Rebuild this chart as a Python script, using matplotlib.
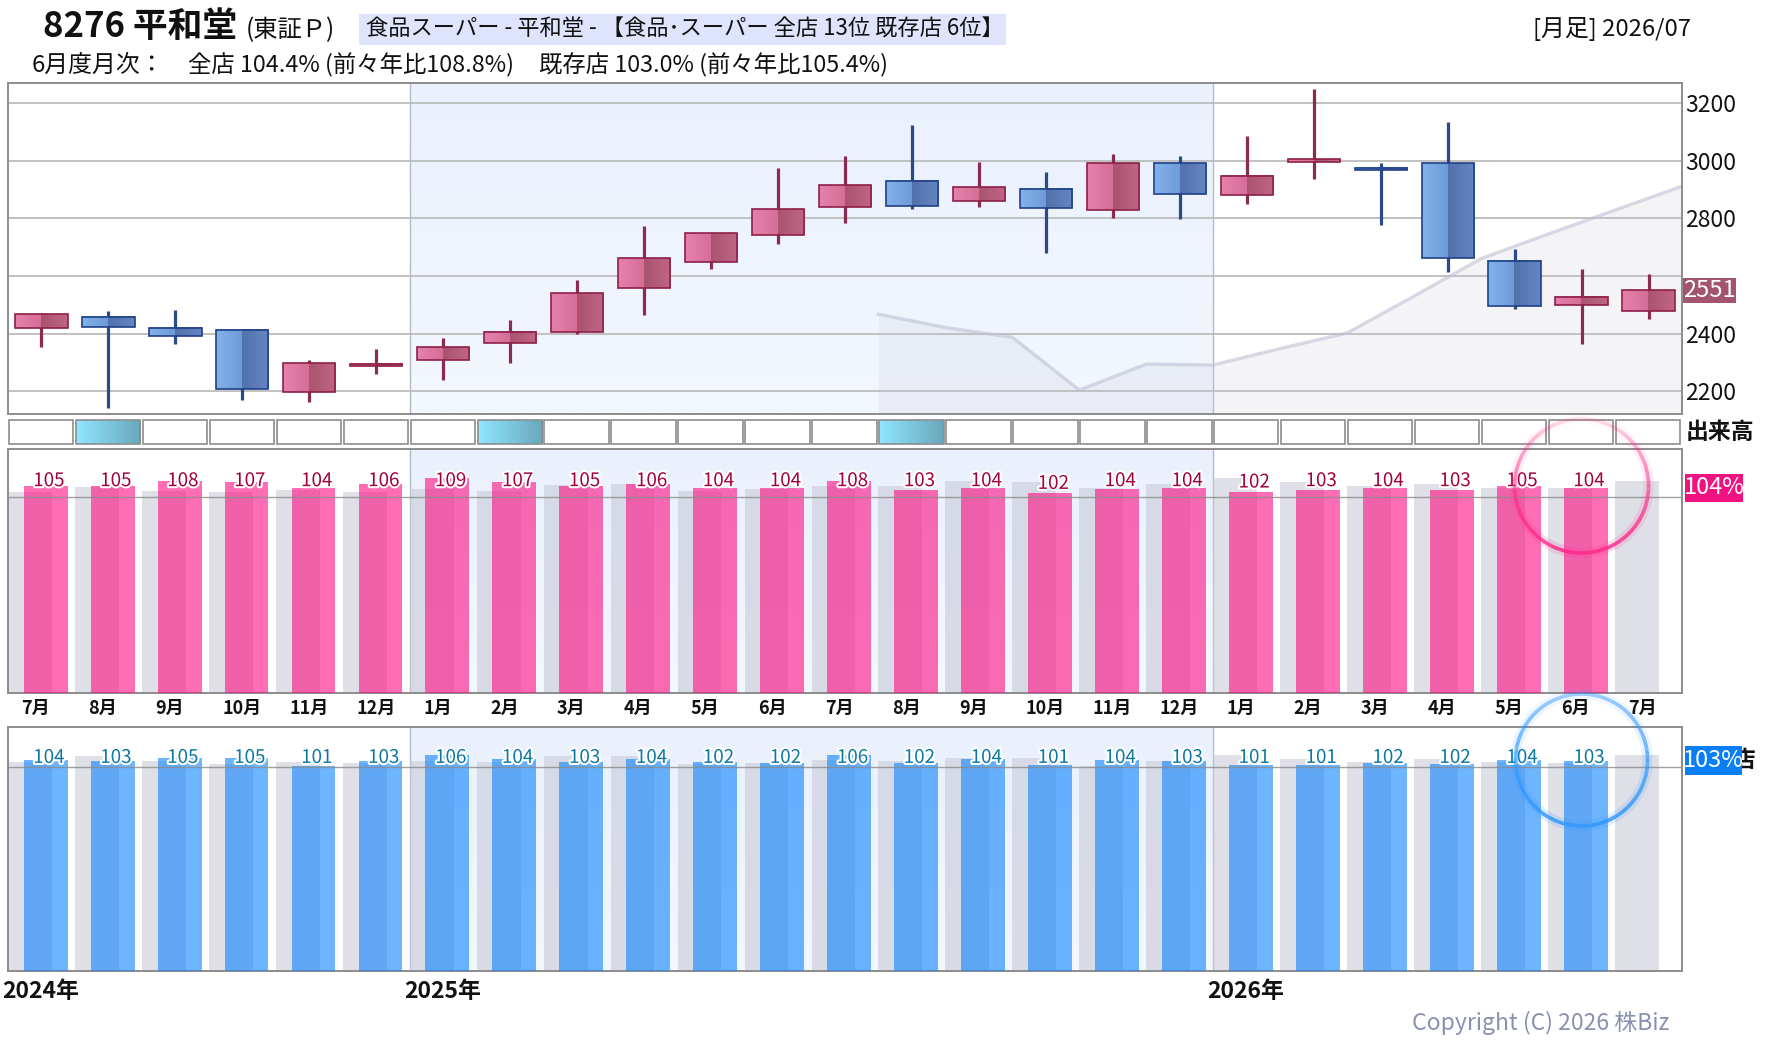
import numpy as np
import matplotlib
matplotlib.use('Agg')
import matplotlib.pyplot as plt
from matplotlib.patches import Rectangle
from matplotlib.collections import LineCollection
import matplotlib.patheffects as pe
from matplotlib.transforms import blended_transform_factory

plt.rcParams['font.family'] = ['Noto Sans CJK JP', 'DejaVu Sans']

W, H = 1780, 1054

# ---------------- data ----------------
months = ['7月', '8月', '9月', '10月', '11月', '12月',
          '1月', '2月', '3月', '4月', '5月', '6月', '7月', '8月', '9月', '10月', '11月', '12月',
          '1月', '2月', '3月', '4月', '5月', '6月', '7月']
years = ['2024年', '2025年', '2026年']
year_start_idx = [0, 6, 18]

opens = [2421, 2459, 2421, 2414, 2197, 2290, 2310, 2366, 2407, 2559, 2648, 2741, 2838,
         2928, 2859, 2900, 2828, 2990, 2879, 2997, 2974, 2990, 2652, 2499, 2479]
highs = [2470, 2477, 2480, 2414, 2308, 2346, 2384, 2446, 2587, 2774, 2750, 2974, 3015,
         3125, 2994, 2960, 3022, 3015, 3084, 3249, 2990, 3134, 2693, 2625, 2608]
lows = [2352, 2141, 2363, 2171, 2164, 2261, 2240, 2299, 2400, 2464, 2623, 2709, 2785,
        2833, 2840, 2678, 2802, 2799, 2851, 2937, 2778, 2613, 2485, 2364, 2451]
closes = [2469, 2424, 2390, 2207, 2297, 2293, 2355, 2407, 2541, 2662, 2748, 2831, 2914,
          2841, 2907, 2834, 2990, 2883, 2945, 3003, 2967, 2662, 2495, 2528, 2551]
last_price = 2551

price_ticks = [2200, 2400, 2600, 2800, 3000, 3200]
price_tick_labels = ['2200', '2400', '', '2800', '3000', '3200']

ma_first_idx = 13
ma_values = [2467, 2421, 2387, 2204, 2294, 2291, 2348, 2402, 2530, 2660, 2745, 2828, 2911]

volume_highlight = [0, 1, 0, 0, 0, 0, 0, 1, 0, 0, 0, 0, 0, 1, 0, 0, 0, 0, 0, 0, 0, 0, 0, 0, 0]

all_store = [105.3, 105.4, 107.8, 107.4, 104.4, 106.4, 109.4, 107.3, 105.3, 106.3, 104.4, 104.4,
             107.8, 103.4, 104.3, 101.7, 103.8, 104.4, 102.4, 103.2, 104.3, 103.2, 105.4, 104.4]
all_store_prev = [102.2, 104.8, 102.7, 102.2, 103.2, 102.2, 103.8, 102.7, 105.8, 106.3, 102.7, 103.8,
                  105.3, 105.4, 107.8, 107.4, 104.4, 106.4, 109.4, 107.3, 105.3, 106.3, 104.4, 104.4, 107.8]
existing = [103.6, 103.1, 104.6, 104.6, 100.7, 103.1, 106.1, 104.1, 102.6, 104.1, 102.4, 102.1,
            106.1, 102.1, 104.1, 101.2, 103.6, 103.1, 101.2, 101.2, 102.1, 101.6, 103.6, 103.1]
existing_prev = [102.6, 105.6, 103.1, 101.6, 102.6, 102.1, 103.1, 102.6, 105.6, 105.6, 101.6, 102.1,
                 103.6, 103.1, 104.6, 104.6, 100.7, 103.1, 106.1, 104.1, 102.6, 104.1, 102.4, 102.1, 106.1]
latest_all = 104.4
latest_existing = 103.0

title_code = '8276 平和堂'
title_market = '(東証Ｐ)'
header_box = '食品スーパー - 平和堂 - 【食品･スーパー 全店 13位 既存店 6位】'
header_right = '[月足] 2026/07'
sub1 = '6月度月次：'
sub2 = '全店 104.4% (前々年比108.8%)'
sub3 = '既存店 103.0% (前々年比105.4%)'
existing_label = '既存店'
copyright_text = 'Copyright (C) 2026 株Biz'

n = len(months)
xs = np.arange(n)

# ---------------- figure ----------------
fig = plt.figure(figsize=(17.8, 10.54), dpi=100)
fig.patch.set_facecolor('white')


def fig_rect(x0, y0, x1, y1):
    return [x0 / W, 1 - y1 / H, (x1 - x0) / W, (y1 - y0) / H]


ax = fig.add_axes(fig_rect(8, 83, 1682, 414))
ax_v = fig.add_axes(fig_rect(8, 419, 1682, 445))
ax_p = fig.add_axes(fig_rect(8, 449.5, 1682, 692.5))
ax_b = fig.add_axes(fig_rect(8, 727, 1682, 971))
ov = fig.add_axes([0, 0, 1, 1], zorder=10)
ov.set_xlim(0, W)
ov.set_ylim(H, 0)
ov.axis('off')

x_lo, x_hi = -0.5, n - 0.5
y25_0, y25_1 = year_start_idx[1] - 0.5, year_start_idx[2] - 0.5


def shade(a, x0, x1, y0, y1, top=(234, 241, 253), bot=(243, 247, 254)):
    g = np.linspace(0, 1, 64)[:, None]
    arr = (np.array(top) * (1 - g) + np.array(bot) * g) / 255.0
    a.imshow(arr[:, None, :], extent=(x0, x1, y0, y1), aspect='auto', origin='upper',
             zorder=0.1, interpolation='bilinear')


def style_frame(a):
    for s in a.spines.values():
        s.set_color('#8c8c8c')
        s.set_linewidth(1.4)


# ---------------- price panel ----------------
p_lo, p_hi = 2121, 3269
shade(ax, y25_0, y25_1, p_lo, p_hi)
for b in (y25_0, y25_1):
    ax.axvline(b, color='#b4b8c8', lw=1.0, zorder=0.3)

ma_x = np.arange(ma_first_idx, ma_first_idx + len(ma_values)) - 0.5
ax.fill_between(ma_x, ma_values, p_lo, color=(200 / 255, 200 / 255, 215 / 255, 0.2), lw=0, zorder=1)
ax.plot(ma_x, ma_values, color=(190 / 255, 192 / 255, 212 / 255, 0.6), lw=2.4, zorder=1.2,
        solid_joinstyle='round')


def body_img(up, m=60):
    if up:
        c = [(228, 130, 172), (214, 110, 150), (170, 84, 112), (192, 102, 133)]
    else:
        c = [(130, 178, 232), (110, 155, 216), (82, 114, 172), (100, 134, 194)]
    h = m // 2
    t = np.linspace(0, 1, h)[:, None]
    left = np.array(c[0]) * (1 - t) + np.array(c[1]) * t
    right = np.array(c[2]) * (1 - t) + np.array(c[3]) * t
    return (np.vstack([left, right]) / 255.0)[None, :, :]


bw = 0.39
for i in range(n):
    o, hi, lo, c = opens[i], highs[i], lows[i], closes[i]
    up = c >= o
    wick = '#8a2c52' if up else '#2a4a8c'
    edge = '#8e1f48' if up else '#1f3f88'
    ax.vlines(i, lo, hi, color=wick, lw=2.3, zorder=2)
    b0, b1 = min(o, c), max(o, c)
    if b1 - b0 < 9:
        mid = (b0 + b1) / 2
        b0, b1 = mid - 4.5, mid + 4.5
    ax.imshow(body_img(up), extent=(i - bw, i + bw, b0, b1), aspect='auto',
              interpolation='nearest', zorder=3)
    ax.add_patch(Rectangle((i - bw, b0), 2 * bw, b1 - b0, fill=False, ec=edge, lw=1.2, zorder=4))

ax.set_xlim(x_lo, x_hi)
ax.set_ylim(p_lo, p_hi)
ax.set_yticks(price_ticks)
ax.set_yticklabels(price_tick_labels)
ax.yaxis.tick_right()
ax.tick_params(axis='y', length=0, pad=2.5, labelsize=16.5, labelcolor='#111111')
ax.set_xticks([])
ax.grid(axis='y', color='#bcbcbc', lw=1.3)
ax.set_axisbelow(True)
style_frame(ax)

# ---------------- volume row ----------------
ax_v.set_xlim(x_lo, x_hi)
ax_v.set_ylim(0, 1)
ax_v.axis('off')
for i in range(n):
    x0 = i - 0.5 + 0.012
    wbox = 0.962
    if volume_highlight[i]:
        g = np.linspace(0, 1, 50)[:, None]
        arr = (np.array((142, 230, 255)) * (1 - g) + np.array((106, 168, 188)) * g) / 255.0
        ax_v.imshow(arr[None, :, :], extent=(x0, x0 + wbox, 0.05, 0.95), aspect='auto',
                    interpolation='bilinear', zorder=1)
        ax_v.add_patch(Rectangle((x0, 0.05), wbox, 0.9, fill=False, ec='#8c8c8c', lw=1.2, zorder=2))
    else:
        ax_v.add_patch(Rectangle((x0, 0.05), wbox, 0.9, fc='white', ec='#8c8c8c', lw=1.2, zorder=2))
ax_v.set_xlim(x_lo, x_hi)
ax_v.set_ylim(0, 1)


# ---------------- bar panels ----------------
def bar_panel(a, vals, prev, ymax, color, label_color, label_cap):
    shade(a, y25_0, y25_1, 0, ymax)
    for b in (y25_0, y25_1):
        a.axvline(b, color='#b4b8c8', lw=1.0, zorder=0.3)
    a.bar(xs - 0.5 + 0.0, prev, width=0.655, align='edge',
          color=(200 / 255, 202 / 255, 216 / 255, 0.6), lw=0, zorder=2)
    a.bar(xs[:len(vals)] - 0.5 + 0.235, vals, width=0.655, align='edge', color=color, lw=0, zorder=3)
    a.axhline(100, color='#8a8a8a', lw=1.0, alpha=0.8, zorder=4)
    for i, v in enumerate(vals):
        a.text(i - 0.5 + 0.61, min(label_cap, v + 2.2), f'{v:.0f}', ha='center', va='baseline',
               fontsize=13.5, color=label_color, zorder=6,
               path_effects=[pe.withStroke(linewidth=3, foreground='white')])
    a.set_xlim(x_lo, x_hi)
    a.set_ylim(0, ymax)
    a.set_xticks([])
    a.set_yticks([])
    style_frame(a)


bar_panel(ax_p, all_store, all_store_prev, 124, (1.0, 13 / 255, 130 / 255, 0.6), '#a0003c', 105.3)
bar_panel(ax_b, existing, existing_prev, 119.6, (12 / 255, 132 / 255, 1.0, 0.6), '#0a78a0', 102.0)

# month labels
trans = blended_transform_factory(ax_p.transData, ax_p.transAxes)
for i, m in enumerate(months):
    ax_p.text(i - 0.5 + 0.2, -0.065, m, transform=trans, ha='left', va='center',
              fontsize=13, fontweight='bold', color='#111111')


# ---------------- overlay (pixel coords) ----------------
def px_y(a, v):
    return H - a.transData.transform((0, v))[1]


def px_x(a, v):
    return a.transData.transform((v, 0))[0]


# header
ov.text(43, 27, title_code, fontsize=25, fontweight='bold', ha='left', va='center', color='#111111')
ov.text(246, 30, title_market, fontsize=17.5, ha='left', va='center', color='#111111')
ov.add_patch(Rectangle((359, 14), 647, 31, fc='#dde4fb', ec='none'))
ov.text(366, 29.5, header_box, fontsize=16, ha='left', va='center', color='#111111')
ov.text(1691, 29, header_right, fontsize=17.2, ha='right', va='center', color='#111111')
ov.text(32, 65, sub1, fontsize=17.2, ha='left', va='center', color='#111111')
ov.text(188, 65, sub2, fontsize=16.8, ha='left', va='center', color='#111111')
ov.text(539, 65, sub3, fontsize=16.8, ha='left', va='center', color='#111111')

# last price tag
yp = px_y(ax, last_price)
ov.add_patch(Rectangle((1683, yp - 12.5), 53, 25, fc='#a35470', ec='none', zorder=5))
ov.text(1709.5, yp, f'{last_price}', fontsize=17, color='white', ha='center', va='center', zorder=6)

# volume label
ov.text(1686, 432, '出来高', fontsize=16.5, fontweight='bold', ha='left', va='center', color='#111111')

# percentage tags
ya = px_y(ax_p, latest_all)
ov.add_patch(Rectangle((1685, ya - 14), 58, 28, fc='#f0127f', ec='none', zorder=5))
ov.text(1714, ya, f'{latest_all:.0f}%', fontsize=17, color='white', ha='center', va='center', zorder=6)

yb = px_y(ax_b, latest_existing)
# label partly hidden behind the tag, as in the reference: only its tail shows to the right
clip_rect = Rectangle((1743, yb - 20), 40, 40, transform=ov.transData, visible=False)
ov.add_patch(clip_rect)
t_ex = ov.text(1756, yb, existing_label, fontsize=16.5, fontweight='bold', ha='right', va='center',
               color='#111111', zorder=4)
t_ex.set_clip_path(clip_rect)
ov.add_patch(Rectangle((1685, yb - 14.5), 57, 29, fc='#0a7ff5', ec='none', zorder=5))
ov.text(1713.5, yb, f'{latest_existing:.0f}%', fontsize=17, color='white', ha='center', va='center', zorder=6)

# year labels
for yl, idx in zip(years, year_start_idx):
    ov.text(px_x(ax_b, idx - 0.5) - 6, 991, yl, fontsize=16.5, fontweight='bold',
            ha='left', va='center', color='#111111')

ov.text(1669, 1023, copyright_text, fontsize=16.5, ha='right', va='center', color='#8a90b0')


# circles
def glow_circle(cx, cy, r, rgb, base, lw):
    th = np.linspace(0, 2 * np.pi, 361)
    pts = np.column_stack([cx + r * np.cos(th), cy + r * np.sin(th)])
    segs = np.stack([pts[:-1], pts[1:]], axis=1)
    mid = (th[:-1] + th[1:]) / 2
    w = (1 + np.sin(mid)) / 2
    alpha = base + (1 - base) * w ** 0.8
    cols = np.zeros((len(mid), 4))
    cols[:, :3] = rgb
    cols[:, 3] = alpha
    glow = cols.copy()
    glow[:, 3] = alpha * 0.15
    ov.add_collection(LineCollection(segs, colors=glow, linewidths=lw + 5, capstyle='butt', zorder=7))
    ov.add_collection(LineCollection(segs, colors=cols, linewidths=lw, capstyle='butt', zorder=8))


cx = px_x(ax_p, 23)
glow_circle(cx, 486, 67, (1.0, 0.17, 0.55), 0.12, 2.6)
glow_circle(cx, 760, 66, (0.2, 0.6, 1.0), 0.45, 2.6)

fig.savefig('out.png', dpi=100, facecolor='white')
